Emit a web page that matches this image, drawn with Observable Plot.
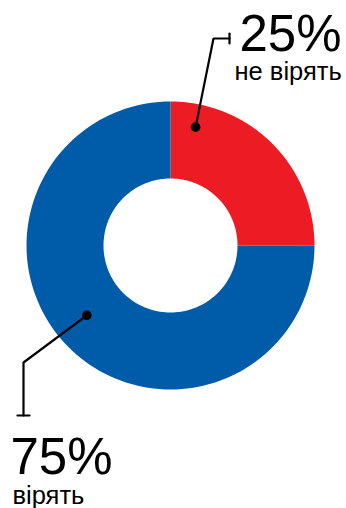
<!DOCTYPE html>
<html><head><meta charset="utf-8">
<script src="https://cdn.jsdelivr.net/npm/d3@7"></script>
<script src="https://cdn.jsdelivr.net/npm/@observablehq/plot@0.6"></script>
<style>body{margin:0;background:#fff} svg{display:block}</style>
</head><body><div id="chart"></div>
<script>
// ---- data ----
const categories = ["не вірять", "вірять"];
const values = [25, 75];
const valueLabels = ["25%", "75%"];
const colors = ["#ed1c24", "#005ca9"];

// ---- layout ----
const W = 346, H = 508, cx = 170, cy = 245, R = 144, r0 = 67;
const annotLayout = [
  {t: 0.133, rad: 121, path: [[213, 38], [229, 38]], tick: [[229, 33], [229, 43]], bigX: 239, bigY: 50, smallX: 234, smallY: 79},
  {t: 0.519, rad: 109, path: [[23, 362], [23, 415]], tick: [[17, 415], [29, 415]], bigX: 10, bigY: 473, smallX: 12, smallY: 503}
];

const total = d3.sum(values);
const starts = d3.cumsum([0, ...values]);
const slices = values.map((v, i) => ({
  k: i, a0: starts[i] / total * 2 * Math.PI, a1: starts[i + 1] / total * 2 * Math.PI
}));
const pt = (a, r) => [cx + r * Math.sin(a), cy - r * Math.cos(a)];

const N = 120;
const marks = [];
slices.forEach(s => {
  const pts = [];
  for (let j = 0; j <= N; j++) { const a = s.a0 + (s.a1 - s.a0) * j / N; pts.push(pt(a, R)); }
  for (let j = N; j >= 0; j--) { const a = s.a0 + (s.a1 - s.a0) * j / N; pts.push(pt(a, r0)); }
  marks.push(Plot.line(pts, {x: d => d[0], y: d => d[1], fill: colors[s.k], stroke: "none", curve: "linear-closed"}));
});

const annots = slices.map((s, i) => {
  const L = annotLayout[i];
  const dot = pt(s.a0 + (s.a1 - s.a0) * L.t, L.rad);
  return {dot, leader: [dot, ...L.path], tick: L.tick, L, big: valueLabels[i], small: categories[i]};
});

annots.forEach(a => {
  marks.push(Plot.line(a.leader, {x: d => d[0], y: d => d[1], stroke: "#000", strokeWidth: 2.2, strokeLinejoin: "miter"}));
  marks.push(Plot.line(a.tick, {x: d => d[0], y: d => d[1], stroke: "#000", strokeWidth: 2.2}));
  marks.push(Plot.dot([a.dot], {x: d => d[0], y: d => d[1], r: 4.8, fill: "#000", stroke: "none"}));
  marks.push(Plot.text([a], {x: d => d.L.bigX, y: d => d.L.bigY, text: d => d.big, textAnchor: "start", lineAnchor: "bottom", fontSize: 51, fill: "#000"}));
  marks.push(Plot.text([a], {x: d => d.L.smallX, y: d => d.L.smallY, text: d => d.small, textAnchor: "start", lineAnchor: "bottom", fontSize: 25.5, fill: "#000"}));
});

const chart = Plot.plot({
  width: W, height: H, margin: 0,
  style: {fontFamily: "'Liberation Sans', Arial, sans-serif", background: "#fff"},
  x: {domain: [0, W], range: [0, W], axis: null},
  y: {domain: [0, H], range: [0, H], axis: null},
  marks
});
document.getElementById("chart").appendChild(chart);
</script>
</body></html>
